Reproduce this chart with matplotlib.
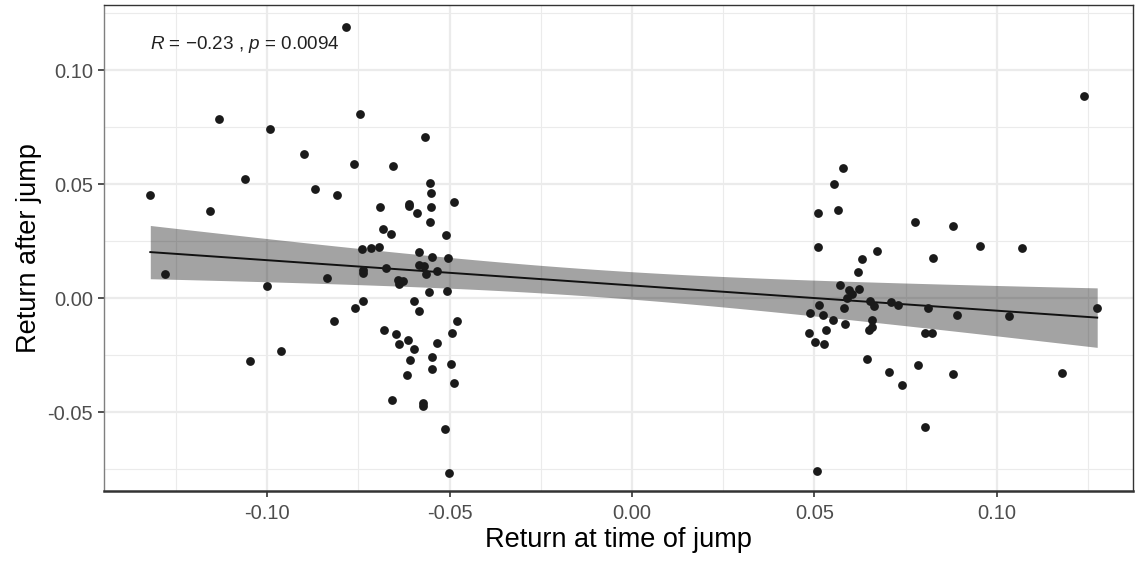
import numpy as np
import matplotlib
matplotlib.use("Agg")
import matplotlib.pyplot as plt
from matplotlib.ticker import MultipleLocator

plt.rcParams["font.family"] = ["Liberation Sans", "DejaVu Sans"]
plt.rcParams["mathtext.fontset"] = "custom"
plt.rcParams["mathtext.it"] = "Liberation Sans:italic"
plt.rcParams["mathtext.rm"] = "Liberation Sans"

# returns at time of jump (negative jumps, then positive jumps)
jump_ret = [
    -0.0784, -0.1132, -0.0993, -0.0745, -0.0568, -0.0900, -0.0763, -0.0656,
    -0.1061, -0.0554, -0.0552, -0.1320, -0.0868, -0.0809, -0.0489, -0.1156,
    -0.0691, -0.0611, -0.0610, -0.0589, -0.0552, -0.0554, -0.0682, -0.0660,
    -0.0511, -0.0739, -0.0716, -0.0692, -0.0585, -0.0547, -0.0504, -0.1280,
    -0.1000, -0.0835, -0.0737, -0.0736, -0.0675, -0.0584, -0.0570, -0.0564,
    -0.0534, -0.0640, -0.0628, -0.0638, -0.0557, -0.0508, -0.0596, -0.0585,
    -0.0738, -0.0760, -0.0816, -0.0479, -0.0494, -0.0679, -0.0647, -0.0614,
    -0.0638, -0.0596, -0.0535, -0.0607, -0.0547, -0.0547, -0.0497, -0.0489,
    -0.0617, -0.0962, -0.1046, -0.0657, -0.0573, -0.0572, -0.0512, -0.0501,
    0.1239, 0.0577, 0.0555, 0.0510, 0.0566, 0.0775, 0.0881, 0.0955,
    0.1070, 0.0510, 0.0671, 0.0630, 0.0824, 0.0619, 0.0569, 0.0595,
    0.0602, 0.0588, 0.0623, 0.0513, 0.0489, 0.0523, 0.0581, 0.0552,
    0.0584, 0.0531, 0.0485, 0.0502, 0.0527, 0.0651, 0.0662, 0.0659,
    0.0658, 0.0650, 0.0709, 0.0729, 0.0811, 0.0892, 0.1034, 0.1275,
    0.0802, 0.0823, 0.0644, 0.0704, 0.0740, 0.0783, 0.0881, 0.1179,
    0.0803, 0.0506,
]

# returns after the jump
after_ret = [
    0.1187, 0.0785, 0.0740, 0.0807, 0.0705, 0.0632, 0.0586, 0.0580,
    0.0523, 0.0506, 0.0462, 0.0450, 0.0478, 0.0450, 0.0423, 0.0383,
    0.0399, 0.0412, 0.0405, 0.0371, 0.0399, 0.0332, 0.0304, 0.0279,
    0.0275, 0.0216, 0.0218, 0.0226, 0.0200, 0.0178, 0.0177, 0.0105,
    0.0053, 0.0088, 0.0123, 0.0111, 0.0133, 0.0145, 0.0140, 0.0105,
    0.0120, 0.0079, 0.0075, 0.0060, 0.0025, 0.0031, -0.0015, -0.0056,
    -0.0015, -0.0044, -0.0099, -0.0099, -0.0152, -0.0140, -0.0158, -0.0184,
    -0.0203, -0.0225, -0.0196, -0.0270, -0.0259, -0.0310, -0.0288, -0.0373,
    -0.0339, -0.0231, -0.0276, -0.0446, -0.0462, -0.0474, -0.0572, -0.0765,
    0.0886, 0.0569, 0.0501, 0.0371, 0.0387, 0.0332, 0.0314, 0.0229,
    0.0221, 0.0225, 0.0206, 0.0171, 0.0177, 0.0114, 0.0058, 0.0034,
    0.0019, -0.0001, 0.0041, -0.0032, -0.0064, -0.0073, -0.0044, -0.0094,
    -0.0113, -0.0140, -0.0151, -0.0192, -0.0203, -0.0015, -0.0034, -0.0098,
    -0.0126, -0.0140, -0.0016, -0.0032, -0.0045, -0.0073, -0.0078, -0.0044,
    -0.0152, -0.0152, -0.0265, -0.0322, -0.0379, -0.0294, -0.0333, -0.0328,
    -0.0566, -0.0757,
]

stat_label = "$R$ = \u22120.23 , $p$ = 0.0094"

x = np.array(jump_ret)
y = np.array(after_ret)

# linear fit with 95% confidence band (like geom_smooth(method="lm"))
n = len(x)
slope, intercept = np.polyfit(x, y, 1)
resid = y - (slope * x + intercept)
s_err = np.sqrt(np.sum(resid ** 2) / (n - 2))
x_fit = np.linspace(x.min(), x.max(), 80)
y_fit = slope * x_fit + intercept
t_crit = 1.98
se_fit = s_err * np.sqrt(1 / n + (x_fit - x.mean()) ** 2 / np.sum((x - x.mean()) ** 2))

fig = plt.figure(figsize=(11.35, 5.62), dpi=100)
ax = fig.add_axes([0.0916, 0.1263, 0.9066, 0.8648])

ax.set_xlim(-0.1447, 0.1373)
ax.set_ylim(-0.0846, 0.1285)

ax.xaxis.set_major_locator(MultipleLocator(0.05))
ax.xaxis.set_minor_locator(MultipleLocator(0.025))
ax.yaxis.set_major_locator(MultipleLocator(0.05))
ax.yaxis.set_minor_locator(MultipleLocator(0.025))
ax.grid(which="major", color="#EBEBEB", linewidth=1.6, zorder=0)
ax.grid(which="minor", color="#EBEBEB", linewidth=0.8, zorder=0)
ax.set_axisbelow(True)

ax.fill_between(x_fit, y_fit - t_crit * se_fit, y_fit + t_crit * se_fit,
                color="black", alpha=0.36, linewidth=0, zorder=2)
ax.plot(x_fit, y_fit, color="#111111", linewidth=1.4, zorder=3)
ax.scatter(x, y, s=40, color="#1a1a1a", linewidths=0, zorder=4)

ax.text(-0.1322, 0.1111, stat_label, fontsize=13.6, color="#222222",
        ha="left", va="center")

ax.xaxis.set_major_formatter(plt.FuncFormatter(lambda v, p: f"{v:.2f}"))
ax.yaxis.set_major_formatter(plt.FuncFormatter(lambda v, p: f"{v:.2f}"))
ax.tick_params(which="major", length=4, width=1.2, color="#333333",
               labelsize=14.5, labelcolor="#4D4D4D")
ax.tick_params(axis="x", pad=5)
ax.tick_params(axis="y", pad=4)
ax.tick_params(which="minor", length=0)

for sp in ax.spines.values():
    sp.set_color("#333333")
    sp.set_linewidth(1.0)
ax.spines["left"].set_color("#7f7f7f")
ax.spines["bottom"].set_linewidth(1.8)

ax.set_xlabel("Return at time of jump", fontsize=19.5, color="black", labelpad=3)
ax.set_ylabel("Return after jump", fontsize=19.5, color="black", labelpad=4)

fig.savefig("out.png", dpi=100)
